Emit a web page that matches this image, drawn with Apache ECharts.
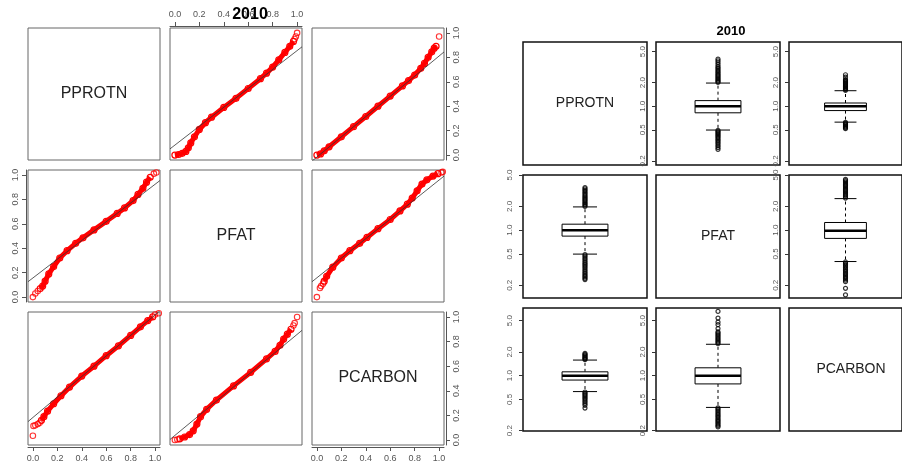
<!DOCTYPE html>
<html><head><meta charset="utf-8">
<script src="https://cdn.jsdelivr.net/npm/echarts@6/dist/echarts.min.js"></script>
<style>html,body{margin:0;padding:0;background:#fff}#c{width:902px;height:465px}</style>
</head><body><div id="c"></div><script>
// ---------------- data ----------------
const chartTitle = '2010';
const variables = ['PPROTN', 'PFAT', 'PCARBON'];
const unitTicks = [0, 0.2, 0.4, 0.6, 0.8, 1.0];
const ratioTicks = [0.2, 0.5, 1, 2, 5];

// P-P panels (x = theoretical, y = observed)
const pp12Band = [[0,0],[0.03,0.005],[0.06,0.015],[0.09,0.03],[0.11,0.06],[0.13,0.1],[0.16,0.15],[0.2,0.21],[0.25,0.265],[0.3,0.31],[0.4,0.39],[0.5,0.465],[0.6,0.545],[0.7,0.625],[0.75,0.67],[0.8,0.72],[0.85,0.78],[0.9,0.84],[0.94,0.89],[0.97,0.93]];
const pp12Sparse = [[0.98,0.95],[0.99,0.97],[1.0,1.0]];
const pp12Ref = [[-0.04,0.051],[1.04,0.886]];

const pp13Band = [[0,0],[0.03,0.01],[0.06,0.035],[0.1,0.068],[0.2,0.15],[0.3,0.233],[0.4,0.316],[0.5,0.4],[0.6,0.483],[0.7,0.566],[0.75,0.61],[0.8,0.655],[0.85,0.71],[0.88,0.75],[0.91,0.8],[0.94,0.845],[0.96,0.875],[0.975,0.89]];
const pp13Sparse = [[1.0,0.97]];
const pp13Ref = [[-0.04,-0.049],[1.04,0.844]];

const pp21Band = [[0.06,0.07],[0.08,0.09],[0.1,0.13],[0.13,0.19],[0.17,0.25],[0.22,0.32],[0.28,0.38],[0.35,0.44],[0.41,0.485],[0.5,0.55],[0.6,0.62],[0.69,0.685],[0.75,0.73],[0.82,0.79],[0.86,0.84],[0.9,0.89],[0.93,0.94],[0.96,0.98]];
const pp21Sparse = [[0.0,0.0],[0.02,0.03],[0.04,0.05],[0.99,1.01],[1.01,1.02]];
const pp21Ref = [[-0.04,0.126],[1.04,0.954]];

const pp23Band = [[0.06,0.13],[0.08,0.17],[0.13,0.245],[0.2,0.32],[0.27,0.38],[0.35,0.44],[0.41,0.488],[0.5,0.56],[0.6,0.635],[0.68,0.705],[0.74,0.76],[0.78,0.81],[0.82,0.87],[0.86,0.925],[0.9,0.96],[0.95,0.99],[0.99,1.01]];
const pp23Sparse = [[0.0,0.0],[0.025,0.075],[0.035,0.09],[0.05,0.11],[1.02,1.02],[1.03,1.025]];
const pp23Ref = [[-0.04,0.126],[1.04,0.99]];

const pp31Band = [[0.07,0.16],[0.09,0.19],[0.12,0.235],[0.17,0.295],[0.23,0.36],[0.3,0.43],[0.4,0.52],[0.5,0.6],[0.6,0.685],[0.7,0.765],[0.8,0.85],[0.88,0.92],[0.94,0.97],[0.98,1.0]];
const pp31Sparse = [[0.0,0.035],[0.005,0.115],[0.02,0.12],[0.04,0.13],[0.055,0.14],[1.0,1.02],[1.03,1.03]];
const pp31Ref = [[-0.04,0.15],[1.04,1.05]];

const pp32Band = [[0.04,0.01],[0.08,0.025],[0.12,0.045],[0.15,0.075],[0.18,0.13],[0.21,0.19],[0.26,0.25],[0.34,0.325],[0.48,0.44],[0.62,0.55],[0.75,0.66],[0.82,0.72],[0.86,0.77],[0.89,0.82],[0.92,0.86],[0.95,0.9]];
const pp32Sparse = [[0.0,0.0],[0.02,0.005],[0.97,0.93],[0.98,0.95],[1.0,1.0]];
const pp32Ref = [[-0.04,0.005],[1.04,0.891]];

// Boxplots of ratios: [lower whisker, Q1, median, Q3, upper whisker]
const box12 = [0.496, 0.824, 1.0, 1.18, 1.98];
const out12 = [2.02,2.08,2.15,2.22,2.3,2.38,2.46,2.55,2.65,2.75,2.86,2.98,3.1,3.22,3.4,3.6,3.8,4.0,
               0.49,0.475,0.46,0.445,0.43,0.415,0.40,0.385,0.37,0.355,0.34,0.325,0.31,0.295,0.28];
const box13 = [0.626, 0.88, 1.0, 1.10, 1.58];
const out13 = [1.6,1.64,1.68,1.72,1.77,1.82,1.87,1.92,1.97,2.02,2.08,2.14,2.2,2.36,2.53,
               0.62,0.605,0.59,0.575,0.56,0.545,0.53,0.516];
const box21 = [0.497, 0.84, 1.0, 1.19, 1.97];
const out21 = [2.0,2.07,2.14,2.21,2.29,2.37,2.45,2.54,2.63,2.73,2.84,2.95,3.07,3.2,3.33,3.46,
               0.49,0.47,0.45,0.43,0.41,0.39,0.375,0.36,0.345,0.33,0.315,0.3,0.288,0.276,0.265,0.255,0.245,0.236];
const box23 = [0.40, 0.786, 0.98, 1.25, 2.51];
const out23 = [2.55,2.65,2.75,2.85,2.95,3.05,3.16,3.28,3.4,3.53,3.66,3.8,3.95,4.1,4.25,4.4,
               0.395,0.38,0.365,0.35,0.335,0.32,0.307,0.295,0.283,0.272,0.262,0.252,0.243,0.232,0.222,0.183,0.151];
const box31 = [0.628, 0.88, 1.0, 1.12, 1.58];
const out31 = [1.6,1.64,1.68,1.72,1.77,1.82,1.87,1.92,
               0.62,0.6,0.58,0.56,0.54,0.52,0.5,0.48,0.46,0.44,0.42,0.387];
const box32 = [0.395, 0.786, 1.0, 1.26, 2.51];
const out32 = [2.55,2.65,2.75,2.86,2.97,3.09,3.21,3.34,3.47,3.6,3.97,4.45,4.8,5.4,6.56,
               0.39,0.375,0.36,0.345,0.33,0.317,0.305,0.293,0.281,0.27,0.26,0.25,0.24,0.231,0.223];

// ---------------- layout ----------------
const FONT = '"Liberation Sans", Arial, Helvetica, sans-serif';
const L_COLS = [28, 170, 312], L_ROWS = [28, 170, 312], L_SIZE = 132;
const R_COLS = [523, 656, 789], R_ROWS = [42, 175, 308], R_W = 124, R_H = 123;
const rowRanges = [[0.177, 6.64], [0.138, 5.0], [0.198, 7.26]];
const RED = '#ff0000';
const CLEAR = 'rgba(0,0,0,0)';

const grids = [], xAxes = [], yAxes = [], series = [], graphics = [];

function hiddenAxis(gi, extra) {
  return Object.assign({gridIndex: gi, type: 'value', show: false, splitLine: {show: false}}, extra || {});
}

// left P-P matrix
const ppPanels = {
  '0,1': [pp12Band, pp12Sparse, pp12Ref],
  '0,2': [pp13Band, pp13Sparse, pp13Ref],
  '1,0': [pp21Band, pp21Sparse, pp21Ref],
  '1,2': [pp23Band, pp23Sparse, pp23Ref],
  '2,0': [pp31Band, pp31Sparse, pp31Ref],
  '2,1': [pp32Band, pp32Sparse, pp32Ref]
};
const leftXAxisPos = {'0,1': 'top', '2,0': 'bottom', '2,2': 'bottom'};
const leftYAxisPos = {'1,0': 'left', '0,2': 'right', '2,2': 'right'};

function unitAxis(gi, pos, isX) {
  return {
    gridIndex: gi, type: 'value', min: -0.04, max: 1.04, position: pos, offset: 2,
    splitLine: {show: false},
    axisLine: {show: true, onZero: false, lineStyle: {color: '#555', width: 1}},
    axisTick: {show: true, length: 4, customValues: unitTicks, lineStyle: {color: '#555'}},
    axisLabel: {show: true, customValues: unitTicks, formatter: v => v.toFixed(1), color: '#555',
      fontSize: 9, fontFamily: FONT, margin: isX ? 7 : 6, rotate: isX ? 0 : 90}
  };
}

for (let r = 0; r < 3; r++) {
  for (let c = 0; c < 3; c++) {
    const gi = grids.length;
    const key = r + ',' + c;
    grids.push({left: L_COLS[c], top: L_ROWS[r], width: L_SIZE, height: r === 2 ? 133 : L_SIZE,
      show: true, borderColor: '#666', borderWidth: 1, backgroundColor: 'transparent', containLabel: false});
    xAxes.push(leftXAxisPos[key] ? unitAxis(gi, leftXAxisPos[key], true) : hiddenAxis(gi, {min: -0.04, max: 1.04}));
    yAxes.push(leftYAxisPos[key] ? unitAxis(gi, leftYAxisPos[key], false) : hiddenAxis(gi, {min: -0.04, max: 1.04}));
    if (r === c) {
      graphics.push({type: 'text', x: L_COLS[c] + L_SIZE / 2, y: L_ROWS[r] + L_SIZE / 2,
        style: {text: variables[r], font: '16px ' + FONT, fill: '#222', align: 'center', verticalAlign: 'middle',
          textAlign: 'center', textVerticalAlign: 'middle'}});
      continue;
    }
    const p = ppPanels[key];
    series.push({type: 'line', xAxisIndex: gi, yAxisIndex: gi, data: p[0], symbol: 'circle', symbolSize: 6,
      showAllSymbol: true, lineStyle: {color: RED, width: 5}, itemStyle: {color: CLEAR, borderColor: RED, borderWidth: 1.2},
      silent: true, animation: false, z: 2});
    series.push({type: 'scatter', xAxisIndex: gi, yAxisIndex: gi, data: p[1], symbol: 'circle', symbolSize: 5.5,
      itemStyle: {color: CLEAR, borderColor: RED, borderWidth: 1.1}, silent: true, animation: false, z: 2});
    series.push({type: 'line', xAxisIndex: gi, yAxisIndex: gi, data: p[2], symbol: 'none',
      lineStyle: {color: '#333', width: 0.8}, silent: true, animation: false, z: 3});
  }
}

// right boxplot matrix
const boxPanels = {
  '0,1': [box12, out12], '0,2': [box13, out13],
  '1,0': [box21, out21], '1,2': [box23, out23],
  '2,0': [box31, out31], '2,1': [box32, out32]
};
const BOX_HALF = 0.185, CAP_HALF = 0.097, CX = 0.5;

function boxRender(params, api) {
  const lo = api.value(1), q1 = api.value(2), med = api.value(3), q3 = api.value(4), hi = api.value(5);
  const cx = api.value(0);
  const xl = api.coord([cx - BOX_HALF, med])[0], xr = api.coord([cx + BOX_HALF, med])[0];
  const xc = api.coord([cx, med])[0];
  const cl = api.coord([cx - CAP_HALF, med])[0], cr = api.coord([cx + CAP_HALF, med])[0];
  const y = v => api.coord([cx, v])[1];
  const yLo = y(lo), yQ1 = y(q1), yMed = y(med), yQ3 = y(q3), yHi = y(hi);
  const k = '#000';
  return {type: 'group', children: [
    {type: 'line', shape: {x1: xc, y1: yQ3, x2: xc, y2: yHi}, style: {stroke: k, lineWidth: 1, lineDash: [3, 3]}},
    {type: 'line', shape: {x1: xc, y1: yQ1, x2: xc, y2: yLo}, style: {stroke: k, lineWidth: 1, lineDash: [3, 3]}},
    {type: 'line', shape: {x1: cl, y1: yHi, x2: cr, y2: yHi}, style: {stroke: k, lineWidth: 1}},
    {type: 'line', shape: {x1: cl, y1: yLo, x2: cr, y2: yLo}, style: {stroke: k, lineWidth: 1}},
    {type: 'rect', shape: {x: xl, y: yQ3, width: xr - xl, height: yQ1 - yQ3}, style: {fill: '#fff', stroke: k, lineWidth: 1}},
    {type: 'line', shape: {x1: xl, y1: yMed, x2: xr, y2: yMed}, style: {stroke: k, lineWidth: 2.5}}
  ]};
}

for (let r = 0; r < 3; r++) {
  for (let c = 0; c < 3; c++) {
    const gi = grids.length;
    const key = r + ',' + c;
    grids.push({left: R_COLS[c], top: R_ROWS[r], width: R_W, height: R_H,
      show: true, borderColor: '#111', borderWidth: 1.5, backgroundColor: 'transparent', containLabel: false});
    xAxes.push(hiddenAxis(gi, {min: 0, max: 1}));
    if (r === c) {
      yAxes.push(hiddenAxis(gi, {min: 0, max: 1}));
      graphics.push({type: 'text', x: R_COLS[c] + R_W / 2, y: R_ROWS[r] + R_H / 2,
        style: {text: variables[r], font: '14px ' + FONT, fill: '#222', align: 'center', verticalAlign: 'middle',
          textAlign: 'center', textVerticalAlign: 'middle'}});
      continue;
    }
    yAxes.push({gridIndex: gi, type: 'log', logBase: 10, min: rowRanges[r][0], max: rowRanges[r][1],
      position: 'left', offset: 3, splitLine: {show: false}, minorTick: {show: false},
      axisLine: {show: false},
      axisTick: {show: true, length: 4, customValues: ratioTicks, lineStyle: {color: '#333'}},
      axisLabel: {show: true, customValues: ratioTicks, formatter: v => Number(v).toFixed(1), color: '#555',
        fontSize: 8, fontFamily: FONT, margin: 6, rotate: 90}});
    const b = boxPanels[key];
    series.push({type: 'custom', xAxisIndex: gi, yAxisIndex: gi, renderItem: boxRender,
      encode: {x: 0, y: [1, 2, 3, 4, 5]}, data: [[CX].concat(b[0])], silent: true, animation: false, z: 2});
    series.push({type: 'scatter', xAxisIndex: gi, yAxisIndex: gi, data: b[1].map(v => [CX, v]),
      symbol: 'circle', symbolSize: 4, itemStyle: {color: CLEAR, borderColor: '#000', borderWidth: 1.2},
      silent: true, animation: false, z: 3});
  }
}

graphics.push({type: 'text', x: 250, y: 15, style: {text: chartTitle, font: 'bold 16px ' + FONT, fill: '#000',
  align: 'center', verticalAlign: 'middle', textAlign: 'center', textVerticalAlign: 'middle'}, z: 10});
graphics.push({type: 'text', x: 731, y: 31, style: {text: chartTitle, font: 'bold 13px ' + FONT, fill: '#000',
  align: 'center', verticalAlign: 'middle', textAlign: 'center', textVerticalAlign: 'middle'}, z: 10});

const chart = echarts.init(document.getElementById('c'), null, {renderer: 'canvas'});
chart.setOption({
  animation: false,
  backgroundColor: '#fff',
  grid: grids, xAxis: xAxes, yAxis: yAxes, series: series,
  graphic: graphics
});
</script></body></html>
